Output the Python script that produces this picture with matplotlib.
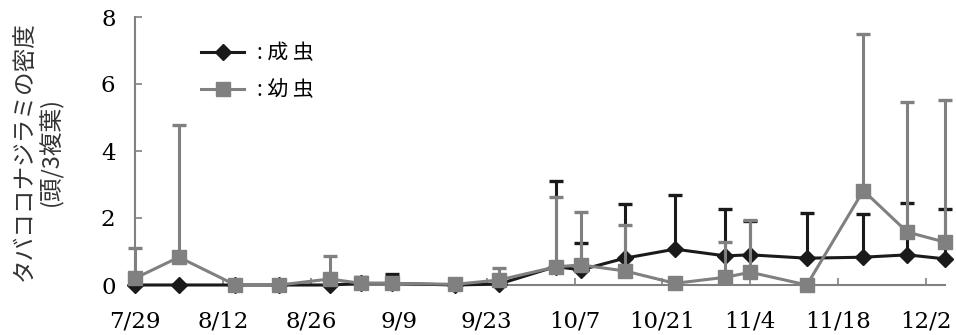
import matplotlib
matplotlib.use("Agg")
import matplotlib.pyplot as plt
import numpy as np
from matplotlib.lines import Line2D

# days since 7/29
days = [0, 7, 16, 23, 31, 36, 41, 51, 58, 67, 71, 78, 86, 94, 98, 107, 116, 123, 129]
adult = [0, 0, 0, 0, 0, 0.05, 0.05, 0, 0.03, 0.55, 0.45, 0.8, 1.07, 0.87, 0.9, 0.8, 0.83, 0.9, 0.78]
adult_up = [0, 0, 0, 0, 0, 0.24, 0.33, 0, 0.03, 3.1, 1.25, 2.42, 2.69, 2.27, 1.92, 2.15, 2.12, 2.45, 2.27]
nymph = [0.2, 0.83, 0, 0, 0.18, 0.05, 0.05, 0.02, 0.15, 0.54, 0.6, 0.42, 0.05, 0.23, 0.38, 0, 2.82, 1.58, 1.28]
nymph_up = [1.1, 4.78, 0, 0, 0.87, 0.05, 0.05, 0.02, 0.5, 2.62, 2.18, 1.79, 0.05, 1.29, 1.94, 0, 7.5, 5.45, 5.52]

xtick_pos = [0, 14, 28, 42, 56, 70, 84, 98, 112, 126]
xtick_labels = ["7/29", "8/12", "8/26", "9/9", "9/23", "10/7", "10/21", "11/4", "11/18", "12/2"]
yticks = [0, 2, 4, 6, 8]

BLACK = "#1a1a1a"
GRAY = "#808080"

fig = plt.figure(figsize=(9.56, 3.35), dpi=100)
ax = fig.add_axes([135/956, 50/335, (945-135)/956, (285-17)/335])

def draw(vals, ups, color, marker, ms, z):
    v = np.array(vals)
    u = np.array(ups)
    err = [np.zeros_like(v), np.clip(u - v, 0, None)]
    eb = ax.errorbar(days, v, yerr=err, fmt="none", ecolor=color, elinewidth=2.2,
                     capsize=5, capthick=2.4, zorder=z)
    for a in eb.lines[1]:
        a.set_clip_on(False)
    for a in eb.lines[2]:
        a.set_clip_on(False)
    ax.plot(days, v, color=color, lw=2.2, marker=marker, ms=ms,
            markerfacecolor=color, markeredgecolor=color, zorder=z + 1, clip_on=False)

draw(adult, adult_up, BLACK, "D", 8.5, 3)
draw(nymph, nymph_up, GRAY, "s", 10, 5)

ax.set_xlim(0, 129)
ax.set_ylim(0, 8)
ax.set_xticks(xtick_pos)
ax.set_xticklabels(xtick_labels, fontfamily="DejaVu Serif", fontsize=16.5)
ax.set_yticks(yticks)
ax.set_yticklabels([str(t) for t in yticks], fontfamily="DejaVu Serif", fontsize=16.5)
ax.tick_params(axis="x", direction="in", length=5, width=1.2, color=GRAY, pad=18)
ax.tick_params(axis="y", direction="in", length=5, width=1.2, color=GRAY, pad=14)
for s in ["top", "right"]:
    ax.spines[s].set_visible(False)
for s in ["left", "bottom"]:
    ax.spines[s].set_color(GRAY)
    ax.spines[s].set_linewidth(1.5)

ax.set_ylabel("タバココナジラミの密度\n(頭/3複葉)", fontfamily=["Noto Sans CJK JP", "DejaVu Sans"],
              fontsize=17, linespacing=1.2, color="#333333")
ax.yaxis.set_label_coords(-0.088, 0.5)

handles = [Line2D([], [], color=BLACK, lw=2.2, marker="D", ms=8.5),
           Line2D([], [], color=GRAY, lw=2.2, marker="s", ms=10)]
leg = ax.legend(handles, [": 成 虫", ": 幼 虫"], loc="upper left", bbox_to_anchor=(0.058, 0.975),
                frameon=False, handlelength=2.1, handletextpad=0.6, labelspacing=0.7,
                prop={"family": ["Noto Sans CJK JP", "DejaVu Sans"], "size": 15})

fig.savefig("out.png", dpi=100)
